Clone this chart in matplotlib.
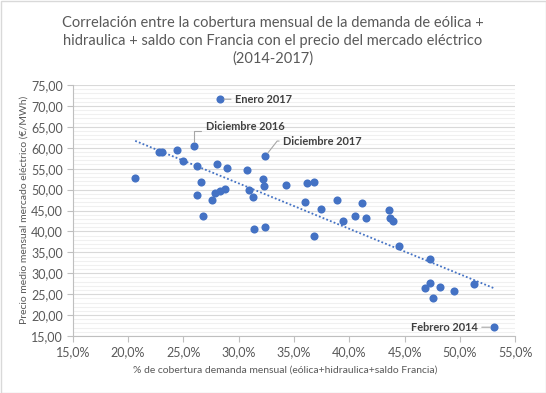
import matplotlib
matplotlib.use("Agg")

import matplotlib.pyplot as plt
from matplotlib.patches import Rectangle
from matplotlib.ticker import FuncFormatter, MultipleLocator
import numpy as np

# cobertura mensual (%) y precio medio (EUR/MWh), 48 meses 2014-2017
cobertura = [20.65, 22.8, 23.1, 24.4, 25.0, 26.0, 26.26, 26.6, 26.26, 26.8,
             27.6, 27.9, 28.0, 28.35, 28.3, 28.8, 28.9, 30.75, 30.95, 31.3,
             31.4, 32.2, 32.3, 32.4, 32.4, 34.25, 36.0, 36.2, 36.8, 36.8,
             37.4, 38.9, 39.45, 40.5, 41.15, 41.5, 43.6, 43.7, 43.96, 44.5,
             47.3, 47.3, 46.8, 48.2, 47.6, 49.5, 51.3, 53.1]
precio = [52.7, 59.0, 59.1, 59.4, 56.8, 60.35, 55.6, 51.75, 48.6, 43.6,
          47.4, 49.1, 56.05, 49.75, 71.6, 50.1, 55.1, 54.6, 49.8, 48.15,
          40.5, 52.45, 50.8, 57.95, 41.0, 51.0, 46.95, 51.5, 51.75, 38.8,
          45.3, 47.4, 42.4, 43.6, 46.7, 43.1, 45.05, 43.1, 42.4, 36.45,
          33.5, 27.6, 26.4, 26.6, 24.0, 25.7, 27.4, 17.1]

etiquetas = {14: "Enero 2017", 5: "Diciembre 2016", 23: "Diciembre 2017", 47: "Febrero 2014"}

AZUL = "#4472C4"
GRIS = "#595959"

plt.rcParams["font.family"] = ["Lato", "DejaVu Sans"]

fig = plt.figure(figsize=(5.46, 3.93), dpi=100)
ax = fig.add_axes([72.7 / 546, 1 - 336 / 393, (515.3 - 72.7) / 546, (336 - 85) / 393])

ax.scatter(cobertura, precio, s=34, color=AZUL, zorder=3, linewidths=0)

# linea de tendencia lineal
x = np.array(cobertura)
m, b = np.polyfit(x, np.array(precio), 1)
xt = np.array([x.min(), x.max()])
ax.plot(xt, m * xt + b, color=AZUL, linewidth=1.3, linestyle=(0, (1, 1.2)), zorder=2)

ax.set_xlim(15, 55)
ax.set_ylim(15, 75)
ax.xaxis.set_major_locator(MultipleLocator(5))
ax.yaxis.set_major_locator(MultipleLocator(5))
ax.yaxis.set_minor_locator(MultipleLocator(1))
ax.xaxis.set_major_formatter(FuncFormatter(lambda v, p: f"{v:.1f}%".replace(".", ",")))
ax.yaxis.set_major_formatter(FuncFormatter(lambda v, p: f"{v:.2f}".replace(".", ",")))

ax.grid(axis="y", which="major", color="#d9d9d9", linewidth=0.8)
ax.grid(axis="y", which="minor", color="#f0f0f0", linewidth=0.8)
ax.set_axisbelow(True)

for s in ["top", "right"]:
    ax.spines[s].set_visible(False)
for s in ["left", "bottom"]:
    ax.spines[s].set_color("#bfbfbf")
    ax.spines[s].set_linewidth(0.8)
ax.tick_params(which="major", length=4, color="#bfbfbf", labelsize=9, labelcolor=GRIS, pad=3)
ax.tick_params(which="minor", length=0)

# etiquetas de puntos
style = dict(fontsize=7.9, fontweight="bold", color="#404040", textcoords="offset points")
line = dict(arrowstyle="-", color="#a6a6a6", lw=0.8)
i = 14
ax.annotate(etiquetas[i], (cobertura[i], precio[i]), xytext=(11, 0), ha="left", va="center",
            arrowprops=dict(line, shrinkA=1, shrinkB=3), **style)
i = 5
ax.annotate(etiquetas[i], (cobertura[i], precio[i]), xytext=(8, 14.5), ha="left", va="center",
            arrowprops=dict(line, relpos=(0, 0.1), shrinkA=1, shrinkB=3,
                            connectionstyle="angle,angleA=0,angleB=90,rad=0"), **style)
i = 23
ax.annotate(etiquetas[i], (cobertura[i], precio[i]), xytext=(13, 11), ha="left", va="center",
            arrowprops=dict(line, relpos=(0, 0.5), shrinkA=1, shrinkB=3,
                            connectionstyle="angle,angleA=0,angleB=52,rad=0"), **style)
i = 47
ax.annotate(etiquetas[i], (cobertura[i], precio[i]), xytext=(-12, 0), ha="right", va="center",
            arrowprops=dict(line, shrinkA=1, shrinkB=3), **style)

fig.text(0.5, 1 - 41 / 393,
         "Correlación entre la cobertura mensual de la demanda de eólica +\n"
         "hidraulica + saldo con Francia con el precio del mercado eléctrico\n"
         "(2014-2017)",
         ha="center", va="center", fontsize=10.5, color=GRIS, linespacing=1.35)
fig.text(285 / 546, 1 - 370 / 393,
         "% de cobertura demanda mensual (eólica+hidraulica+saldo Francia)",
         ha="center", va="center", fontsize=7.5, color=GRIS)
fig.text(24 / 546, 1 - 210 / 393, "Precio medio mensual mercado eléctrico (€/MWh)",
         ha="center", va="center", rotation=90, fontsize=7.5, color=GRIS)

fig.patches.append(Rectangle((0.5 / 546, 0.5 / 393), 1 - 1 / 546, 1 - 1 / 393, transform=fig.transFigure,
                             fill=False, edgecolor="#d9d9d9", linewidth=1))

fig.savefig("out.png", dpi=100)
plt.close(fig)
